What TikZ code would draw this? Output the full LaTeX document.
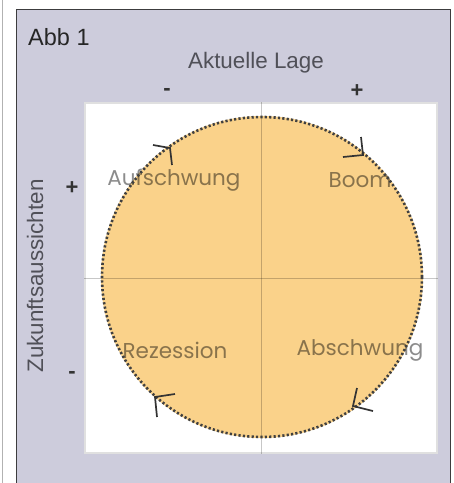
\documentclass[tikz,border=0pt]{standalone}
\usepackage{fontspec}
\setmainfont{Liberation Sans}
\newfontfamily\quadfont{Poppins}
\definecolor{lav}{RGB}{205,204,220}
\definecolor{orng}{RGB}{250,210,138}
\definecolor{axtxt}{RGB}{80,80,88}
\definecolor{darkline}{RGB}{60,60,62}
\tikzset{
  outerline/.style={draw=black!30, line width=1pt},
  boxborder/.style={draw=darkline, line width=1.8pt},
  plotbox/.style={rectangle, fill=white, draw=black!12, line width=1.5pt, inner sep=0pt},
  cyclefill/.style={circle, fill=orng, inner sep=0pt, minimum size=322pt},
  axisline/.style={draw=black, opacity=0.22, line width=1pt},
  cycleborder/.style={draw=black!75, line width=2.6pt, dash pattern=on 2.2pt off 2.2pt},
  tipstroke/.style={draw=black!80, line width=1.7pt},
  axlabel/.style={text=axtxt, font=\fontsize{22.4}{24}\selectfont, inner sep=0pt},
  signlabel/.style={text=black!80, font=\bfseries\fontsize{22}{24}\selectfont, inner sep=0pt},
  quadlabel/.style={text=black, opacity=0.45, font=\quadfont\fontsize{21.5}{23}\selectfont, inner sep=0pt}
}
\begin{document}
\begin{tikzpicture}[x=1pt,y=-1pt]
\useasboundingbox (0,0) rectangle (454,483);
\draw[outerline] (2.5,0) -- (2.5,483);
\fill[lav] (16.5,9.5) rectangle (450.5,483);
\draw[boxborder] (16.5,483) -- (16.5,9.5) -- (450.5,9.5) -- (450.5,483);
\node[anchor=base west, inner sep=0pt, text=black!85, font=\fontsize{23.5}{26}\selectfont] (title) at (28,45) {Abb 1};
\node[axlabel, anchor=base] (xlab) at (256,68) {Aktuelle Lage};
\node[signlabel] (xminus) at (167,92) {-};
\node[signlabel] (xplus) at (357,91) {+};
\node[axlabel, rotate=90] (ylab) at (35,276) {Zukunftsaussichten};
\node[signlabel] (yplus) at (72,188) {+};
\node[signlabel] (yminus) at (72,375) {-};
\node[plotbox, minimum width=352pt, minimum height=350pt] (plot) at (261,278) {};
\node[cyclefill] (cyc) at (262,277) {};
\draw[axisline] (plot.north) -- (plot.south);
\draw[axisline] (plot.west) -- (plot.east);
\node[quadlabel] (auf) at (174,180) {Aufschwung};
\node[quadlabel] (boom) at (360,180) {Boom};
\node[quadlabel] (rez) at (175,350) {Rezession};
\node[quadlabel] (ab) at (360,350) {Abschwung};
\draw[cycleborder] (cyc.center) circle[radius=160];
\coordinate (t1) at (170,148);
\coordinate (t2) at (363,155);
\coordinate (t3) at (353,406);
\coordinate (t4) at (155,397);
\draw[tipstroke] (t1) ++(-17,-3) -- (t1) -- ++(2,17);
\draw[tipstroke] (t2) ++(-20,2) -- (t2) -- ++(-2,-18);
\draw[tipstroke] (t3) ++(4,-18) -- (t3) -- ++(20,5);
\draw[tipstroke] (t4) ++(20,-3) -- (t4) -- ++(2,20);
\end{tikzpicture}
\end{document}
